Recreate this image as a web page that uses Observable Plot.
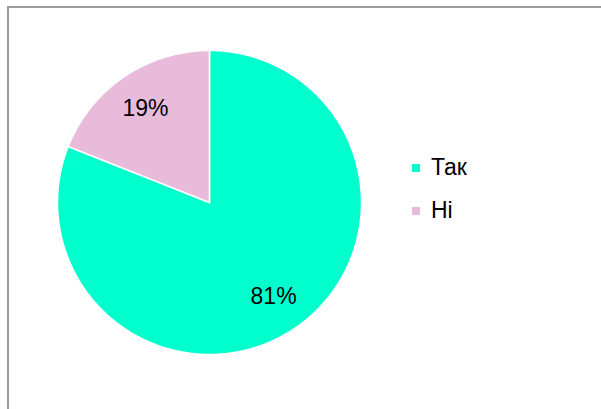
<!DOCTYPE html>
<html>
<head>
<meta charset="utf-8">
<script src="https://cdn.jsdelivr.net/npm/d3@7"></script>
<script src="https://cdn.jsdelivr.net/npm/@observablehq/plot@0.6"></script>
<style>
  html, body { margin: 0; padding: 0; background: #fff; }
  #wrap { position: relative; width: 601px; height: 409px; overflow: hidden; font-family: "Liberation Sans", Arial, sans-serif; }
  #frame { position: absolute; left: 7px; top: 6px; width: 800px; height: 600px; border: 2px solid #9a9a9a; box-sizing: border-box; }
  #chart { position: absolute; left: 0; top: 0; }
  #legend { position: absolute; left: 412px; top: 156px; }
  .row { display: flex; align-items: center; height: 23px; margin-bottom: 20px; font-size: 23px; color: #000; }
  .sw { width: 8px; height: 8px; margin-right: 11px; }
</style>
</head>
<body>
<div id="wrap">
  <div id="frame"></div>
  <div id="chart"></div>
  <div id="legend"></div>
</div>
<script>
const categories = ["Так", "Ні"];
const values = [81, 19];
const labels = ["81%", "19%"];
const colors = ["#00FFCC", "#E9BBDB"];

const pie = d3.pie().sort(null).value(d => d)(values);

// polygon vertices of each slice, from the data's angles
const pts = [];
pie.forEach((a, i) => {
  pts.push({cat: categories[i], x: 0, y: 0});
  const n = Math.max(2, Math.ceil((a.endAngle - a.startAngle) / 0.01));
  for (let k = 0; k <= n; k++) {
    const t = a.startAngle + (a.endAngle - a.startAngle) * k / n;
    pts.push({cat: categories[i], x: Math.sin(t), y: Math.cos(t)});
  }
  pts.push({cat: categories[i], x: 0, y: 0});
});

const labelData = pie.map((a, i) => {
  const m = (a.startAngle + a.endAngle) / 2;
  return {label: labels[i], x: 0.75 * Math.sin(m), y: 0.75 * Math.cos(m)};
});

const chart = Plot.plot({
  width: 601,
  height: 409,
  margin: 0,
  x: {domain: [-1, 1], range: [57, 361], axis: null},
  y: {domain: [-1, 1], range: [354, 50], axis: null},
  color: {domain: categories, range: colors},
  style: {background: "transparent", fontFamily: "'Liberation Sans', Arial, sans-serif"},
  marks: [
    Plot.line(pts, {x: "x", y: "y", z: "cat", fill: "cat", stroke: "white", strokeWidth: 1.5, curve: "linear"}),
    Plot.text(labelData, {x: "x", y: "y", text: "label", fontSize: 23, fill: "#000"})
  ]
});
document.getElementById("chart").appendChild(chart);

const legend = document.getElementById("legend");
categories.forEach((c, i) => {
  const row = document.createElement("div");
  row.className = "row";
  const sw = document.createElement("div");
  sw.className = "sw";
  sw.style.background = colors[i];
  const tx = document.createElement("span");
  tx.textContent = c;
  row.appendChild(sw);
  row.appendChild(tx);
  legend.appendChild(row);
});
</script>
</body>
</html>
